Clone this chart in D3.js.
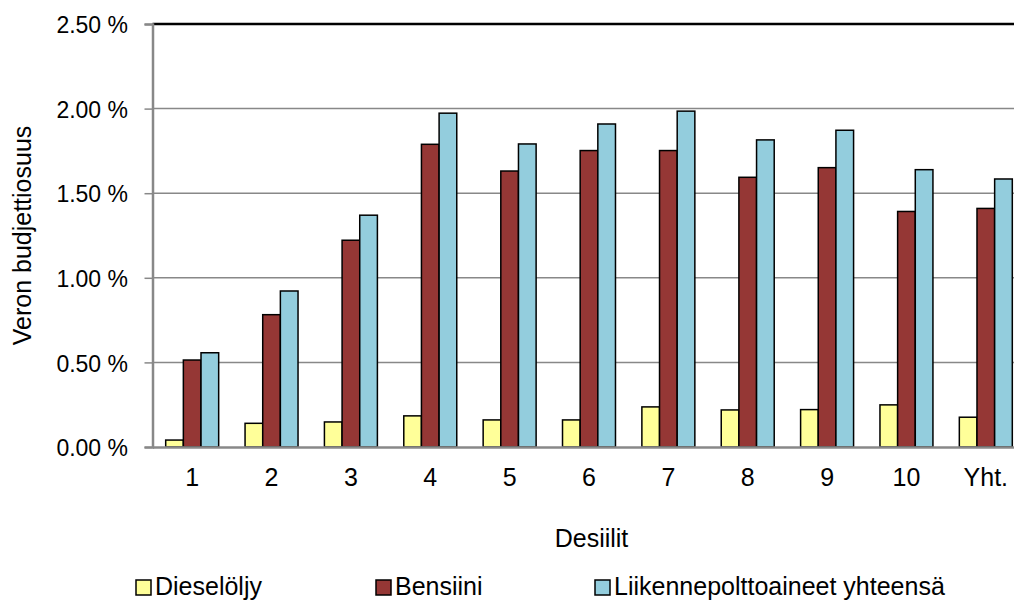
<!DOCTYPE html>
<html>
<head>
<meta charset="utf-8">
<script src="https://cdn.jsdelivr.net/npm/d3@7/dist/d3.min.js"></script>
<style>
  html, body { margin: 0; padding: 0; background: #fff; }
  svg { display: block; font-family: "Liberation Sans", Arial, sans-serif; }
</style>
</head>
<body>
<svg id="chart" width="1014" height="602"></svg>
<script>
// Desiilit ja kokonaisuus
const categories = ["1", "2", "3", "4", "5", "6", "7", "8", "9", "10", "Yht."];
const seriesNames = ["Dieselöljy", "Bensiini", "Liikennepolttoaineet yhteensä"];
const seriesColors = ["#FFFF99", "#953735", "#93CDDD"];

// Veron budjettiosuus (%)
const diesel = [0.041, 0.140, 0.148, 0.184, 0.160, 0.160, 0.237, 0.219, 0.221, 0.249, 0.176];
const bensiini = [0.514, 0.782, 1.222, 1.789, 1.631, 1.752, 1.752, 1.594, 1.651, 1.392, 1.410];
const yhteensa = [0.557, 0.922, 1.370, 1.973, 1.791, 1.909, 1.985, 1.815, 1.872, 1.639, 1.584];

const yTicks = [0, 0.5, 1.0, 1.5, 2.0, 2.5];

const seriesValues = [diesel, bensiini, yhteensa];
const rows = categories.map((c, i) => ({
  cat: c,
  values: seriesNames.map((s, j) => ({ key: s, idx: j, value: seriesValues[j][i] }))
}));

const svg = d3.select("#chart");
const plot = { left: 152.5, right: 1025.5, top: 24, bottom: 447 };
const font = "'Liberation Sans', Arial, sans-serif";

const x = d3.scaleBand()
  .domain(categories)
  .range([plot.left, plot.right])
  .paddingInner(0.3325)
  .paddingOuter(0.16625);

const xInner = d3.scaleBand()
  .domain(seriesNames)
  .range([0, x.bandwidth()]);

const y = d3.scaleLinear()
  .domain([0, 2.5])
  .range([plot.bottom, plot.top]);

// Vaakasuorat apuviivat
svg.append("g")
  .selectAll("line")
  .data(yTicks.filter(t => t > 0 && t < 2.5))
  .join("line")
  .attr("x1", plot.left).attr("x2", plot.right)
  .attr("y1", d => y(d)).attr("y2", d => y(d))
  .attr("stroke", "#888").attr("stroke-width", 1.5);

// Piirtoalueen yläreuna
svg.append("line")
  .attr("x1", plot.left).attr("x2", plot.right)
  .attr("y1", y(2.5)).attr("y2", y(2.5))
  .attr("stroke", "#000").attr("stroke-width", 2.5);

// Pylväät
const groups = svg.append("g")
  .selectAll("g")
  .data(rows)
  .join("g")
  .attr("transform", d => `translate(${x(d.cat)},0)`);

groups.selectAll("rect")
  .data(d => d.values)
  .join("rect")
  .attr("x", d => xInner(d.key))
  .attr("width", xInner.bandwidth())
  .attr("y", d => y(d.value))
  .attr("height", d => y(0) - y(d.value))
  .attr("fill", d => seriesColors[d.idx])
  .attr("stroke", "#000")
  .attr("stroke-width", 1.5);

// Y-akseli
const yAxis = svg.append("g")
  .attr("transform", `translate(${plot.left},0)`)
  .call(d3.axisLeft(y).tickValues(yTicks).tickSize(8).tickPadding(16.5)
    .tickFormat(d => d3.format(".2f")(d) + " %"));
yAxis.select(".domain").attr("stroke", "#888").attr("stroke-width", 2.5);
yAxis.selectAll(".tick line").attr("stroke", "#888").attr("stroke-width", 1.5);
yAxis.selectAll(".tick text")
  .attr("font-size", 23).attr("fill", "#000").attr("dy", "0.38em")
  .style("font-family", font);

// X-akseli
const xAxis = svg.append("g")
  .attr("transform", `translate(0,${plot.bottom})`)
  .call(d3.axisBottom(x).tickSize(0).tickPadding(21));
xAxis.select(".domain").attr("stroke", "#888").attr("stroke-width", 2.5);
xAxis.selectAll(".tick text")
  .attr("font-size", 25).attr("fill", "#000")
  .style("font-family", font);

// Akselien otsikot
svg.append("text")
  .attr("transform", `translate(31,${(plot.top + plot.bottom) / 2}) rotate(-90)`)
  .attr("text-anchor", "middle")
  .attr("font-size", 25)
  .text("Veron budjettiosuus");

svg.append("text")
  .attr("x", 591.5)
  .attr("y", 546.5)
  .attr("text-anchor", "middle")
  .attr("font-size", 25)
  .text("Desiilit");

// Selite
const legendX = [136, 376, 595];
const legend = svg.append("g")
  .selectAll("g")
  .data(seriesNames)
  .join("g")
  .attr("transform", (d, i) => `translate(${legendX[i]},580)`);
legend.append("rect")
  .attr("width", 15).attr("height", 15)
  .attr("fill", (d, i) => seriesColors[i])
  .attr("stroke", "#000").attr("stroke-width", 1.5);
legend.append("text")
  .attr("x", 19).attr("y", 15)
  .attr("font-size", 25)
  .text(d => d);
</script>
</body>
</html>
